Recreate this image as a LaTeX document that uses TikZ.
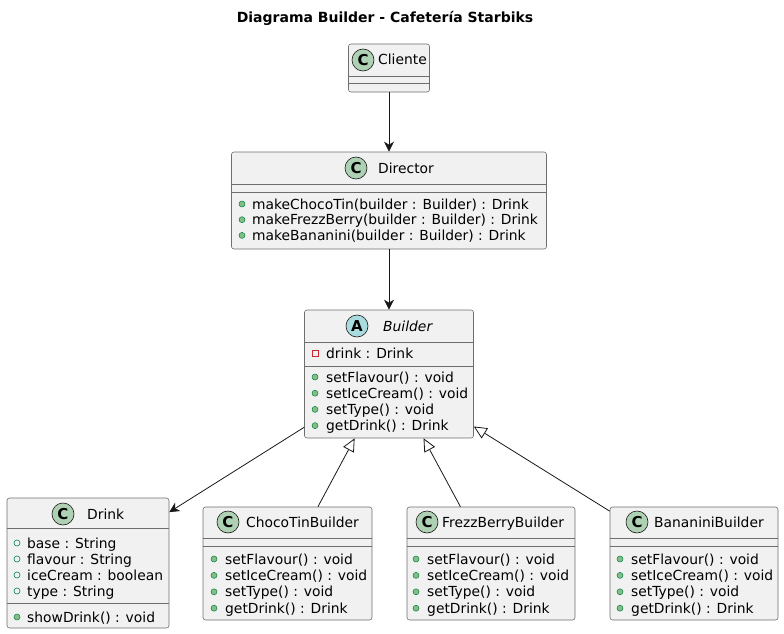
\documentclass[tikz,border=0pt]{standalone}
\usepackage{fontspec}
\setmainfont{DejaVu Sans}
\usepackage{tikz}
\usetikzlibrary{arrows.meta,positioning,calc}

\definecolor{uborder}{HTML}{6E6E6E}
\definecolor{uline}{HTML}{181818}
\definecolor{ufill}{HTML}{F1F1F1}
\definecolor{cgreen}{HTML}{ADD1B2}
\definecolor{ablue}{HTML}{A9DCDF}
\definecolor{pubdark}{HTML}{038048}
\definecolor{publight}{HTML}{84BE84}
\definecolor{privred}{HTML}{C82930}

\begin{document}
\begin{tikzpicture}[x=1pt,y=-1pt,font=\fontsize{13.85}{16}\selectfont,
    classbox/.style={draw=uborder,fill=ufill,rounded corners=2.5pt,line width=0.6pt,inner sep=0pt},
    sep/.style={draw=uborder,line width=0.6pt},
    cicon/.style={circle,draw=uline,fill=cgreen,line width=0.6pt,inner sep=0pt,minimum size=22pt,font=\fontsize{15}{16}\selectfont\bfseries},
    aicon/.style={cicon,fill=ablue},
    mdot/.style={circle,draw=pubdark,fill=publight,line width=0.5pt,inner sep=0pt,minimum size=6pt},
    fdot/.style={circle,draw=pubdark,line width=0.6pt,inner sep=0pt,minimum size=6pt},
    psq/.style={rectangle,draw=privred,line width=0.6pt,inner sep=0pt,minimum size=6pt},
    member/.style={anchor=base west,inner sep=0pt},
    assoc/.style={draw=uline,line width=0.8pt,-{Stealth[length=10pt,width=10pt,inset=3pt]}},
    inherit/.style={draw=uline,line width=0.8pt,-{Triangle[open,length=13pt,width=12pt]}}]
    \useasboundingbox (0,0) rectangle (784,634);

    % title
    \node[font=\fontsize{14}{16}\selectfont\bfseries] (title) at (385,18) {Diagrama Builder - Cafetería Starbiks};

    % Cliente
    \node[classbox,minimum width=81pt,minimum height=48pt] (cli) at (389,68) {};
    \draw[sep] (cli.west |- 0,76) -- (cli.east |- 0,76);
    \draw[sep] (cli.west |- 0,83) -- (cli.east |- 0,83);
    \node[cicon] (cliC) at (363,60) {C};
    \node[member] (cliN) at (378,65) {Cliente};

    % Director
    \node[classbox,minimum width=315pt,minimum height=97pt] (dir) at (389,200.5) {};
    \draw[sep] (dir.west |- 0,184) -- (dir.east |- 0,184);
    \draw[sep] (dir.west |- 0,192) -- (dir.east |- 0,192);
    \node[cicon] (dirC) at (356,168) {C};
    \node[member] (dirN) at (378,173) {Director};
    \foreach \t [count=\i] in {makeChocoTin(builder : Builder) : Drink,
        makeFrezzBerry(builder : Builder) : Drink,
        makeBananini(builder : Builder) : Drink} {
      \node[mdot] (dird\i) at (242,{204+15.7*(\i-1)}) {};
      \node[member] (dirm\i) at (252,{209+15.7*(\i-1)}) {\t};
    }

    % Builder (abstract)
    \node[classbox,minimum width=169pt,minimum height=128pt] (bld) at (389,374) {};
    \draw[sep] (bld.west |- 0,342) -- (bld.east |- 0,342);
    \draw[sep] (bld.west |- 0,366) -- (bld.east |- 0,366);
    \node[aicon] (bldA) at (357,326) {A};
    \node[member,font=\fontsize{13.85}{16}\selectfont\itshape] (bldN) at (383,331) {Builder};
    \node[psq] (blds) at (315,353) {};
    \node[member] (bldf) at (326,358) {drink : Drink};
    \foreach \t [count=\i] in {setFlavour() : void,setIceCream() : void,
        setType() : void,getDrink() : Drink} {
      \node[mdot] (bldd\i) at (315,{377+16.2*(\i-1)}) {};
      \node[member] (bldm\i) at (326,{382+16.2*(\i-1)}) {\t};
    }

    % Drink
    \node[classbox,minimum width=162pt,minimum height=130pt] (drk) at (88,563) {};
    \draw[sep] (drk.west |- 0,528) -- (drk.east |- 0,528);
    \draw[sep] (drk.west |- 0,603) -- (drk.east |- 0,603);
    \node[cicon] (drkC) at (63,514) {C};
    \node[member] (drkN) at (87,519) {Drink};
    \foreach \t [count=\i] in {base : String,flavour : String,
        iceCream : boolean,type : String} {
      \node[fdot] (drkd\i) at (17,{543+16*(\i-1)}) {};
      \node[member] (drkf\i) at (27,{548+16*(\i-1)}) {\t};
    }
    \node[mdot] (drkd5) at (17,617) {};
    \node[member] (drkm1) at (27,622) {showDrink() : void};

    % concrete builders
    \foreach \n/\cx/\w/\ix/\tx/\dx/\name in {cho/287.5/169/228/246/214/ChocoTinBuilder,
        frz/491/168/427/442/416/FrezzBerryBuilder,
        ban/694/168/637/654/620/BananiniBuilder} {
      \node[classbox,minimum width=\w pt,minimum height=113pt] (\n) at (\cx,563.5) {};
      \draw[sep] (\n.west |- 0,538) -- (\n.east |- 0,538);
      \draw[sep] (\n.west |- 0,546) -- (\n.east |- 0,546);
      \node[cicon] (\n C) at (\ix,522) {C};
      \node[member] (\n N) at (\tx,527) {\name};
      \foreach \t [count=\i] in {setFlavour() : void,setIceCream() : void,
          setType() : void,getDrink() : Drink} {
        \node[mdot] (\n d\i) at (\dx,{559+16.4*(\i-1)}) {};
        \node[member] (\n m\i) at ({\dx+11},{564+16.4*(\i-1)}) {\t};
      }
    }

    % connectors
    \draw[assoc] (cli) -- (dir);
    \draw[assoc] (dir) -- (bld);
    \draw[assoc] (bld) -- (drk);
    \draw[inherit] (cho) -- (bld);
    \draw[inherit] (frz) -- (bld);
    \draw[inherit] (ban) -- (bld);
\end{tikzpicture}
\end{document}
